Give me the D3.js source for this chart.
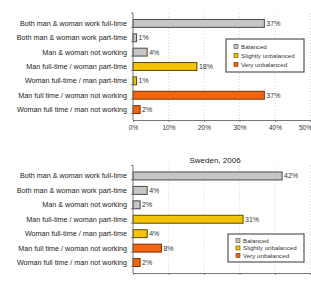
<!DOCTYPE html>
<html>
<head>
<meta charset="utf-8">
<script src="https://cdn.jsdelivr.net/npm/d3@7"></script>
<style>
  body { margin: 0; background: #fff; }
  svg { display: block; font-family: "Liberation Sans", Arial, sans-serif; }
</style>
</head>
<body>
<div id="chart"></div>
<script>
var categories = ["Both man & woman work full-time", "Both man & woman work part-time",
                  "Man & woman not working", "Man full-time / woman part-time",
                  "Woman full-time / man part-time", "Man full time / woman not working",
                  "Woman full time / man not working"];
var groups = ["Balanced", "Balanced", "Balanced", "Slightly unbalanced", "Slightly unbalanced",
              "Very unbalanced", "Very unbalanced"];
var topValues = [37, 1, 4, 18, 1, 37, 2];
var swedenValues = [42, 4, 2, 31, 4, 8, 2];
var ticks = [0, 10, 20, 30, 40, 50];
var legendNames = ["Balanced", "Slightly unbalanced", "Very unbalanced"];

var fills = { "Balanced": "#c6c6c6", "Slightly unbalanced": "#f4c400", "Very unbalanced": "#f2660f" };
var strokes = { "Balanced": "#4a4a4a", "Slightly unbalanced": "#5a4a00", "Very unbalanced": "#7a2e00" };

var svg = d3.select("#chart").append("svg")
    .attr("width", 311)
    .attr("height", 281);

var x = d3.scaleLinear().domain([0, 50]).range([133, 310.5]);

// one panel: values, vertical band, title, legend box
function drawPanel(values, y0, y1, title, showTicks, legendBox) {
    var g = svg.append("g");
    var y = d3.scaleBand().domain(categories).range([y0, y1]).padding(0.45);

    // dotted grid
    g.selectAll("line.grid")
        .data(ticks.slice(1))
        .enter().append("line")
        .attr("x1", function(d) { return x(d); })
        .attr("x2", function(d) { return x(d); })
        .attr("y1", y0)
        .attr("y2", y1)
        .attr("stroke", "#c8c8c8")
        .attr("stroke-width", 0.7)
        .attr("stroke-dasharray", "1,2");

    g.selectAll("rect.bar")
        .data(values)
        .enter().append("rect")
        .attr("x", x(0))
        .attr("y", function(d, i) { return y(categories[i]); })
        .attr("width", function(d) { return x(d) - x(0); })
        .attr("height", y.bandwidth())
        .attr("fill", function(d, i) { return fills[groups[i]]; })
        .attr("stroke", function(d, i) { return strokes[groups[i]]; })
        .attr("stroke-width", 1);

    g.selectAll("text.val")
        .data(values)
        .enter().append("text")
        .attr("x", function(d) { return x(d) + 2; })
        .attr("y", function(d, i) { return y(categories[i]) + y.bandwidth() / 2; })
        .attr("dy", "0.35em")
        .attr("font-size", 7)
        .attr("fill", "#333")
        .text(function(d) { return d + "%"; });

    // category labels
    g.selectAll("text.cat")
        .data(categories)
        .enter().append("text")
        .attr("x", 127)
        .attr("y", function(d) { return y(d) + y.bandwidth() / 2; })
        .attr("dy", "0.35em")
        .attr("text-anchor", "end")
        .attr("font-size", 7.2)
        .attr("fill", "#222")
        .text(function(d) { return d; });

    // left axis
    g.append("line")
        .attr("x1", x(0)).attr("x2", x(0))
        .attr("y1", y0).attr("y2", y1)
        .attr("stroke", "#777").attr("stroke-width", 1);
    g.selectAll("line.ltick")
        .data(d3.range(categories.length + 1))
        .enter().append("line")
        .attr("x1", x(0) - 2).attr("x2", x(0))
        .attr("y1", function(i) { return y0 + i * y.step(); })
        .attr("y2", function(i) { return y0 + i * y.step(); })
        .attr("stroke", "#777");

    // bottom axis
    var axis = g.append("g")
        .attr("transform", "translate(0," + y1 + ")")
        .call(d3.axisBottom(x).tickValues(ticks).tickSize(2).tickFormat(function(d) { return d + "%"; }));
    axis.select(".domain").attr("stroke", "#777");
    axis.selectAll(".tick line").attr("stroke", "#777");
    axis.selectAll("text").attr("font-size", 6.5).attr("fill", "#333")
        .style("display", showTicks ? null : "none");
    // keep the last tick label inside the window
    axis.selectAll(".tick text").filter(function(d) { return d === 50; })
        .attr("text-anchor", "end").attr("x", 1);

    if (title) {
        g.append("text")
            .attr("x", 215).attr("y", y0 - 3)
            .attr("text-anchor", "middle")
            .attr("font-size", 8)
            .attr("fill", "#222")
            .text(title);
    }

    // legend
    var lg = g.append("g");
    lg.append("rect")
        .attr("x", legendBox[0]).attr("y", legendBox[1])
        .attr("width", legendBox[2]).attr("height", legendBox[3])
        .attr("fill", "#fff").attr("stroke", "#555").attr("stroke-width", 1.2);
    var step = (legendBox[3] - 6) / legendNames.length;
    legendNames.forEach(function(n, i) {
        var cy = legendBox[1] + 3 + step * (i + 0.5);
        lg.append("rect")
            .attr("x", legendBox[0] + 8).attr("y", cy - 2)
            .attr("width", 4).attr("height", 4)
            .attr("fill", fills[n]).attr("stroke", strokes[n]).attr("stroke-width", 0.6);
        lg.append("text")
            .attr("x", legendBox[0] + 15).attr("y", cy)
            .attr("dy", "0.35em")
            .attr("font-size", 6.2)
            .attr("fill", "#333")
            .text(n);
    });
}

drawPanel(topValues, 13, 120, null, true, [226, 39, 78, 33]);
drawPanel(swedenValues, 165.5, 273, "Sweden, 2006", false, [228, 234, 76, 28]);
</script>
</body>
</html>
